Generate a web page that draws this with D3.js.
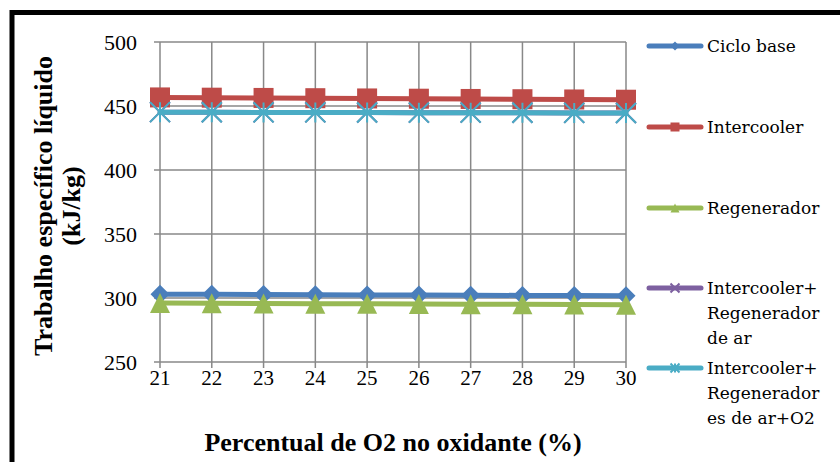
<!DOCTYPE html>
<html>
<head>
<meta charset="utf-8">
<script src="https://cdn.jsdelivr.net/npm/d3@7"></script>
<style>
  html, body { margin: 0; padding: 0; background: #fff; }
  svg { display: block; }
</style>
</head>
<body>
<svg id="chart" width="840" height="462"></svg>
<script>
// O2 share in the oxidant (%)
const categories = [21, 22, 23, 24, 25, 26, 27, 28, 29, 30];

// Net specific work (kJ/kg) per configuration
const cicloBase      = [303.0, 302.9, 302.7, 302.6, 302.4, 302.3, 302.2, 302.0, 301.9, 301.8];
const intercooler    = [456.7, 456.5, 456.3, 456.1, 455.9, 455.7, 455.5, 455.3, 455.1, 454.9];
const regenerador    = [296.0, 295.9, 295.7, 295.6, 295.5, 295.4, 295.2, 295.1, 295.0, 294.8];
const icRegenAr      = [445.2, 445.1, 445.0, 445.0, 444.9, 444.8, 444.8, 444.7, 444.6, 444.5];
const icRegenArO2    = [445.2, 445.1, 445.0, 445.0, 444.9, 444.8, 444.8, 444.7, 444.6, 444.5];

const yTicks = [250, 300, 350, 400, 450, 500];

const seriesNames = [
  ["Ciclo base"],
  ["Intercooler"],
  ["Regenerador"],
  ["Intercooler+", "Regenerador", "de ar"],
  ["Intercooler+", "Regenerador", "es de ar+O2"]
];
const seriesValues = [cicloBase, intercooler, regenerador, icRegenAr, icRegenArO2];
const seriesColors = ["#4A7EBB", "#BE4B48", "#98B954", "#7D60A0", "#4AACC5"];
const seriesMarkers = ["diamond", "square", "triangle", "x", "star"];

const svg = d3.select("#chart");

// outer frame
svg.append("rect")
  .attr("x", 12).attr("y", 12.5)
  .attr("width", 840).attr("height", 470)
  .attr("fill", "#fff").attr("stroke", "#000").attr("stroke-width", 5);

const plotLeft = 154, plotTop = 42, plotBottom = 362;

const x = d3.scalePoint().domain(categories).range([160, 626]);
const y = d3.scaleLinear().domain([250, 500]).range([plotBottom, plotTop]);

const grid = svg.append("g");
// horizontal gridlines
grid.selectAll("line.h").data(yTicks).join("line")
  .attr("x1", plotLeft).attr("x2", 626)
  .attr("y1", d => y(d)).attr("y2", d => y(d))
  .attr("stroke", "#888").attr("stroke-width", 1.5);
// vertical gridlines (also form the tick marks below the axis)
grid.selectAll("line.v").data(categories).join("line")
  .attr("x1", d => x(d)).attr("x2", d => x(d))
  .attr("y1", plotTop).attr("y2", plotBottom + 6)
  .attr("stroke", "#888").attr("stroke-width", 1.5);

const serif = "'Liberation Serif', 'Times New Roman', serif";

// y tick labels
svg.append("g").selectAll("text").data(yTicks).join("text")
  .attr("x", 137).attr("y", d => y(d))
  .attr("dy", "0.35em")
  .attr("text-anchor", "end")
  .attr("font-family", serif).attr("font-size", 22)
  .text(d => d);

// x tick labels
svg.append("g").selectAll("text").data(categories).join("text")
  .attr("x", d => x(d)).attr("y", 378)
  .attr("dy", "0.35em")
  .attr("text-anchor", "middle")
  .attr("font-family", serif).attr("font-size", 21)
  .text(d => d);

// axis titles
svg.append("text")
  .attr("x", 393).attr("y", 451)
  .attr("text-anchor", "middle")
  .attr("font-family", serif).attr("font-size", 26).attr("font-weight", "bold")
  .text("Percentual de O2 no oxidante (%)");

const yTitle = svg.append("text")
  .attr("transform", "translate(0,206) rotate(-90)")
  .attr("text-anchor", "middle")
  .attr("font-family", serif).attr("font-size", 26).attr("font-weight", "bold");
yTitle.append("tspan").attr("x", 0).attr("y", 52).text("Trabalho específico líquido");
yTitle.append("tspan").attr("x", 0).attr("y", 80).text("(kJ/kg)");

// marker shapes
function drawMarker(g, type, color, s) {
  if (type === "diamond") {
    g.append("path").attr("d", `M0,${-s/2}L${s/2},0L0,${s/2}L${-s/2},0Z`).attr("fill", color);
  } else if (type === "square") {
    g.append("rect").attr("x", -s/2).attr("y", -s/2).attr("width", s).attr("height", s).attr("fill", color);
  } else if (type === "triangle") {
    g.append("path").attr("d", `M0,${-s/2}L${s/2},${s/2}L${-s/2},${s/2}Z`).attr("fill", color);
  } else if (type === "x") {
    const h = s / 2;
    g.append("path").attr("d", `M${-h},${-h}L${h},${h}M${-h},${h}L${h},${-h}`)
      .attr("stroke", color).attr("stroke-width", 2).attr("fill", "none");
  } else if (type === "star") {
    const h = s / 2;
    g.append("path").attr("d", `M${-h},${-h}L${h},${h}M${-h},${h}L${h},${-h}M0,${-h}L0,${h}`)
      .attr("stroke", color).attr("stroke-width", 2).attr("fill", "none");
  }
}

const line = d3.line().x((d, i) => x(categories[i])).y(d => y(d));
const markerSizes = { diamond: 19, square: 20, triangle: 20, x: 20, star: 20 };

seriesValues.forEach((vals, si) => {
  const color = seriesColors[si];
  const g = svg.append("g");
  g.append("path").datum(vals)
    .attr("d", line)
    .attr("fill", "none").attr("stroke", color).attr("stroke-width", 5)
    .attr("stroke-linejoin", "round").attr("stroke-linecap", "round");
  vals.forEach((v, i) => {
    const m = g.append("g").attr("transform", `translate(${x(categories[i])},${y(v)})`);
    drawMarker(m, seriesMarkers[si], color, markerSizes[seriesMarkers[si]]);
  });
});

// legend
const legendY = [46, 127, 208, 288, 368];
const legendFont = "'DejaVu Serif', serif";
seriesNames.forEach((lines, si) => {
  const color = seriesColors[si];
  const g = svg.append("g").attr("transform", `translate(0,${legendY[si]})`);
  g.append("line").attr("x1", 649).attr("x2", 701).attr("y1", 0).attr("y2", 0)
    .attr("stroke", color).attr("stroke-width", 5).attr("stroke-linecap", "round");
  const m = g.append("g").attr("transform", "translate(675,0)");
  drawMarker(m, seriesMarkers[si], color, 9);
  const t = g.append("text")
    .attr("font-family", legendFont).attr("font-size", 17).attr("fill", "#000");
  lines.forEach((ln, li) => {
    t.append("tspan").attr("x", 707).attr("y", li * 25).attr("dy", "0.35em").text(ln);
  });
});
</script>
</body>
</html>
